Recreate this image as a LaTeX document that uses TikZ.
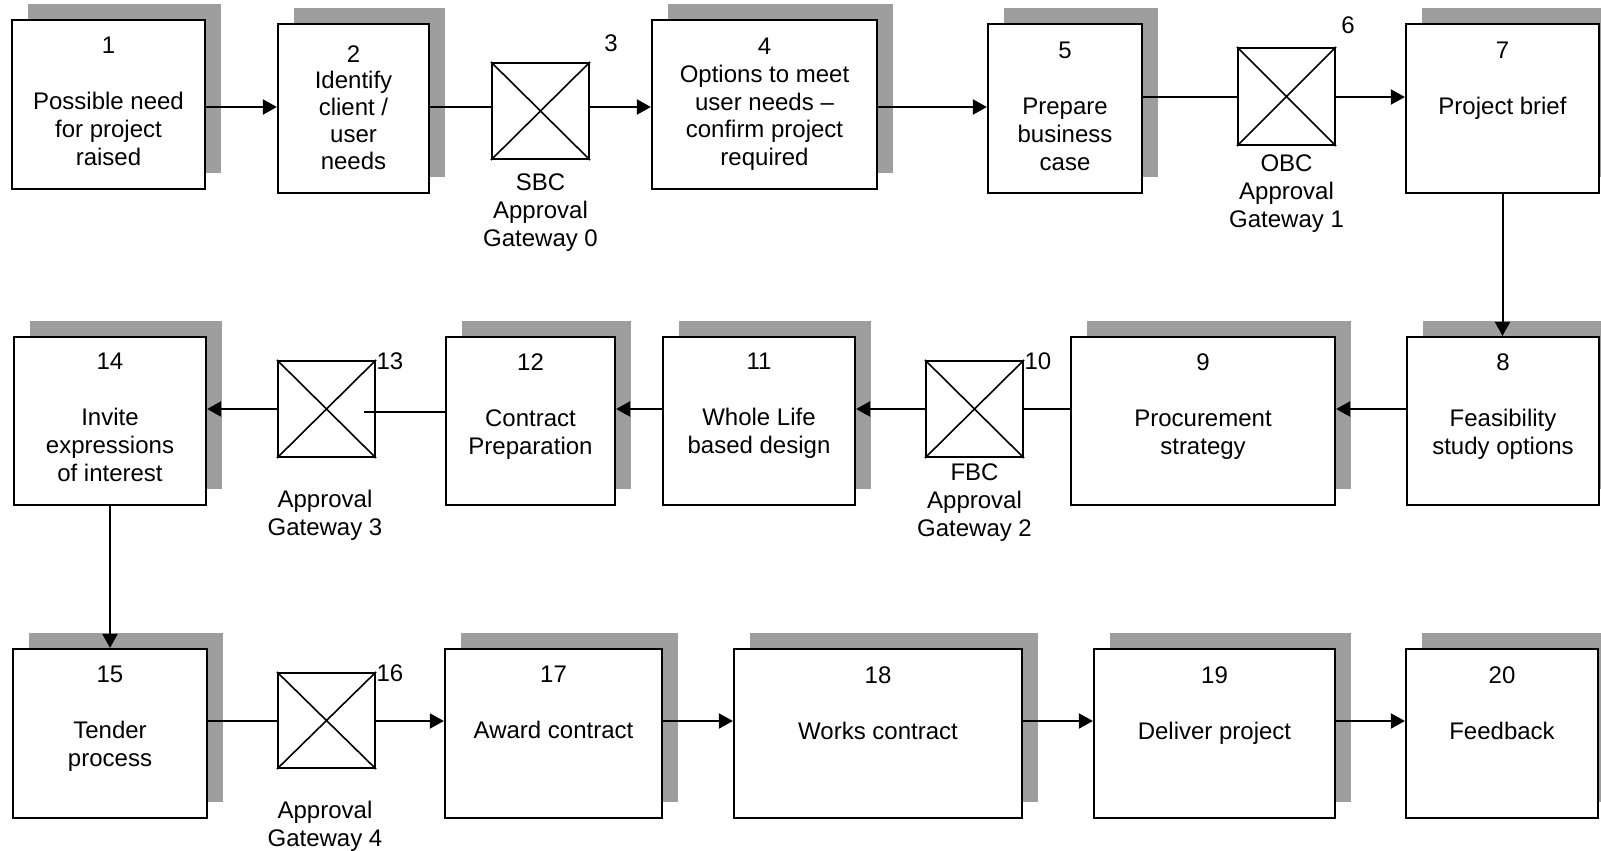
\documentclass[tikz,border=0pt]{standalone}
\usepackage{fontspec}
\setmainfont{Liberation Sans}
\usetikzlibrary{shadows,arrows.meta,calc}
\definecolor{shadowgray}{gray}{0.62}
\newcommand\mkbox[5]{\node[box, minimum width={(#4-#2)*0.5pt}, minimum height={(#5-#3)*0.5pt}] (#1) at ({(#2+#4)/2},{(#3+#5)/2}) {};}
\newcommand\mkgate[5]{\node[gate, minimum width={(#4-#2)*0.5pt}, minimum height={(#5-#3)*0.5pt}] (#1) at ({(#2+#4)/2},{(#3+#5)/2}) {};
  \draw[xline] (#1.north west) -- (#1.south east) (#1.north east) -- (#1.south west);}
\begin{document}
\begin{tikzpicture}[x=0.5pt,y=-0.5pt,
  font=\fontsize{12pt}{14pt}\selectfont,
  box/.style={draw, line width=1.1pt, fill=white, rectangle, inner sep=0pt,
    general shadow={shadow xshift=8pt, shadow yshift=8pt, fill=shadowgray}},
  gate/.style={draw, line width=1.1pt, fill=white, rectangle, inner sep=0pt},
  xline/.style={line width=0.8pt},
  txt/.style={align=center, inner sep=0pt, anchor=north},
  ln/.style={line width=1pt},
  arr/.style={line width=1pt, -{Triangle[length=7pt,width=7.5pt]}}]
\useasboundingbox (0,0) rectangle (1601,851);
\clip (0,0) rectangle (1601,851);
\fill[white] (0,0) rectangle (1601,851);

% row 1
\mkbox{b1}{12}{20}{205}{189}
\mkbox{b2}{278}{24}{429}{193}
\mkbox{b4}{652}{20}{877}{189}
\mkbox{b5}{988}{24}{1142}{193}
\mkbox{b7}{1406}{24}{1599}{193}
% row 2
\mkbox{b14}{14}{337}{206}{505}
\mkbox{b12}{446}{337}{615}{505}
\mkbox{b11}{663}{337}{855}{505}
\mkbox{b9}{1071}{337}{1335}{505}
\mkbox{b8}{1407}{337}{1599}{505}
% row 3
\mkbox{b15}{13}{649}{207}{818}
\mkbox{b17}{445}{649}{662}{818}
\mkbox{b18}{734}{649}{1022}{818}
\mkbox{b19}{1094}{649}{1335}{818}
\mkbox{b20}{1406}{649}{1598}{818}

% gateways
\mkgate{g3}{492}{63}{589}{159}
\mkgate{g6}{1238}{48}{1335}{145}
\mkgate{g10}{926}{361}{1023}{457}
\mkgate{g13}{278}{361}{375}{457}
\mkgate{g16}{278}{673}{375}{768}

% box texts
\node[txt] (t1) at ($(b1.north)+(0,18)$) {1\\[14pt]Possible need\\for project\\raised};
\node[txt, font=\fontsize{12pt}{13.4pt}\selectfont] (t2) at ($(b2.north)+(0,22)$) {2\\Identify\\client /\\user\\needs};
\node[txt, font=\fontsize{12pt}{13.8pt}\selectfont] (t4) at ($(b4.north)+(0,19)$) {4\\Options to meet\\user needs –\\confirm project\\required};
\node[txt] (t5) at ($(b5.north)+(0,19)$) {5\\[14pt]Prepare\\business\\case};
\node[txt] (t7) at ($(b7.north)+(0,19)$) {7\\[14pt]Project brief};
\node[txt] (t14) at ($(b14.north)+(0,17)$) {14\\[14pt]Invite\\expressions\\of interest};
\node[txt] (t12) at ($(b12.north)+(0,17)$) {12\\[14pt]Contract\\Preparation};
\node[txt] (t11) at ($(b11.north)+(0,17)$) {11\\[14pt]Whole Life\\based design};
\node[txt] (t9) at ($(b9.north)+(0,17)$) {9\\[14pt]Procurement\\strategy};
\node[txt] (t8) at ($(b8.north)+(0,17)$) {8\\[14pt]Feasibility\\study options};
\node[txt] (t15) at ($(b15.north)+(0,18)$) {15\\[14pt]Tender\\process};
\node[txt] (t17) at ($(b17.north)+(0,18)$) {17\\[14pt]Award contract};
\node[txt] (t18) at ($(b18.north)+(0,18)$) {18\\[14pt]Works contract};
\node[txt] (t19) at ($(b19.north)+(0,18)$) {19\\[14pt]Deliver project};
\node[txt] (t20) at ($(b20.north)+(0,18)$) {20\\[14pt]Feedback};

% gateway numbers
\node[inner sep=0pt] (n3) at ($(g3.north east)+(21,-19)$) {3};
\node[inner sep=0pt] (n6) at ($(g6.north east)+(12,-22)$) {6};
\node[inner sep=0pt, anchor=west] (n10) at ($(g10.north east)+(0,1)$) {10};
\node[inner sep=0pt, anchor=west] (n13) at ($(g13.north east)+(0,1)$) {13};
\node[inner sep=0pt, anchor=west] (n16) at ($(g16.north east)+(0,1)$) {16};

% gateway captions
\node[txt] (c3) at ($(g3.south)+(0,13.5)$) {SBC\\Approval\\Gateway 0};
\node[txt] (c6) at ($(g6.south)+(0,8.5)$) {OBC\\Approval\\Gateway 1};
\node[txt] (c10) at ($(g10.south)+(0,5.5)$) {FBC\\Approval\\Gateway 2};
\node[txt] (c13) at ($(g13.south)+(-1.5,32)$) {Approval\\Gateway 3};
\node[txt] (c16) at ($(g16.south)+(-1.5,32)$) {Approval\\Gateway 4};

% connector levels
\coordinate (r1a) at (0,107);
\coordinate (r1b) at (0,97);
\coordinate (r2) at (0,409);
\coordinate (r2b) at (0,412);
\coordinate (r3) at (0,721);
\coordinate (e13) at (364,412);

\draw[arr] (b1.east |- r1a) -- (b2.west |- r1a);
\draw[ln] (b2.east |- r1a) -- (g3.west |- r1a);
\draw[arr] (g3.east |- r1a) -- (b4.west |- r1a);
\draw[arr] (b4.east |- r1a) -- (b5.west |- r1a);
\draw[ln] (b5.east |- r1b) -- (g6.west |- r1b);
\draw[arr] (g6.east |- r1b) -- (b7.west |- r1b);
\draw[arr] (b7.south) -- (b7.south |- b8.north);
\draw[arr] (b8.west |- r2) -- (b9.east |- r2);
\draw[ln] (b9.west |- r2) -- (g10.east |- r2);
\draw[arr] (g10.west |- r2) -- (b11.east |- r2);
\draw[arr] (b11.west |- r2) -- (b12.east |- r2);
\draw[ln] (b12.west |- r2b) -- (e13);
\draw[arr] (g13.west |- r2) -- (b14.east |- r2);
\draw[arr] (b14.south) -- (b14.south |- b15.north);
\draw[ln] (b15.east |- r3) -- (g16.west |- r3);
\draw[arr] (g16.east |- r3) -- (b17.west |- r3);
\draw[arr] (b17.east |- r3) -- (b18.west |- r3);
\draw[arr] (b18.east |- r3) -- (b19.west |- r3);
\draw[arr] (b19.east |- r3) -- (b20.west |- r3);
\end{tikzpicture}
\end{document}
